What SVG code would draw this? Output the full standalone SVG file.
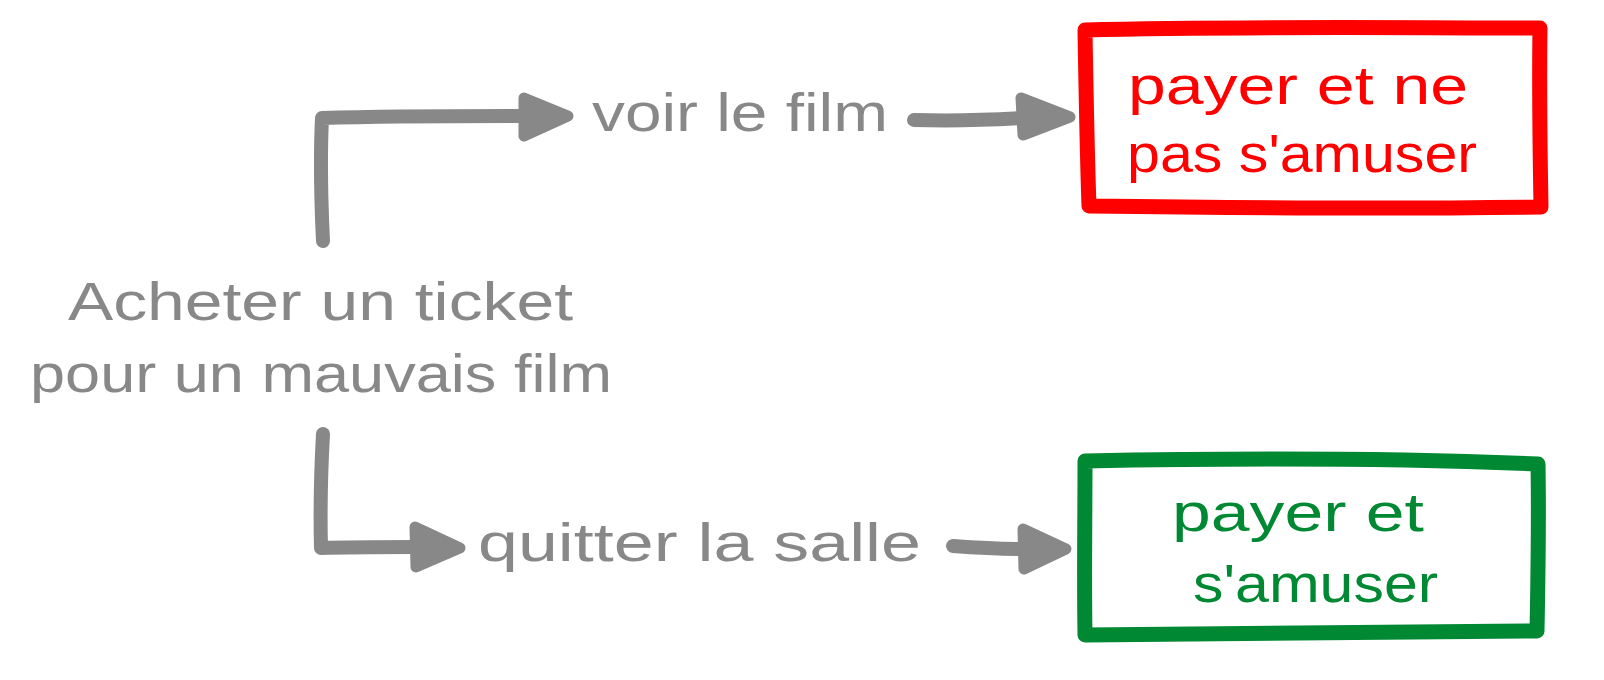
<svg xmlns="http://www.w3.org/2000/svg" width="1604" height="680" viewBox="0 0 1604 680">
<style>
.bg{fill:#ffffff}
.t{font-family:"Liberation Sans","Noto Sans",Arial,sans-serif;font-size:54px}
.g{fill:#888888}
.r{fill:#ff0000}
.gr{fill:#008833}
.ln{fill:none;stroke:#888888;stroke-width:14;stroke-linecap:round;stroke-linejoin:round}
.hd{fill:#888888;stroke:#888888;stroke-width:11;stroke-linejoin:round}
.boxr{fill:none;stroke:#ff0000;stroke-width:15;stroke-linejoin:round;stroke-linecap:round}
.boxg{fill:none;stroke:#008833;stroke-width:15;stroke-linejoin:round;stroke-linecap:round}
</style>
<rect class="bg" x="0" y="0" width="1604" height="680"/>
<g id="connectors">
  <path class="ln" d="M323,241 C321,200 320,160 322,118 C390,116 460,116 528,116"/>
  <polygon class="hd" points="524,98 568,116 524,136"/>
  <path class="ln" d="M914,120 C950,121 990,120 1024,118"/>
  <polygon class="hd" points="1021,98 1070,117 1023,135"/>
  <path class="ln" d="M323,434 C321,470 320,510 321,548 C350,547 385,547 414,547"/>
  <polygon class="hd" points="415,527 460,548 416,567"/>
  <path class="ln" d="M953,546 C980,548 1000,549 1026,549"/>
  <polygon class="hd" points="1023,529 1066,549 1024,569"/>
</g>
<g id="start">
  <text class="t g" x="68" y="320" textLength="505" lengthAdjust="spacingAndGlyphs">Acheter un ticket</text>
  <text class="t g" x="30" y="392" textLength="582" lengthAdjust="spacingAndGlyphs">pour un mauvais film</text>
</g>
<g id="voir">
  <text class="t g" x="592" y="131" textLength="296" lengthAdjust="spacingAndGlyphs">voir le film</text>
</g>
<g id="quitter">
  <text class="t g" x="478" y="561" textLength="443" lengthAdjust="spacingAndGlyphs">quitter la salle</text>
</g>
<g id="bad">
  <path class="boxr" d="M1085,30 C1240,26 1390,28 1540,28 C1539,90 1540,150 1541,207 C1390,209 1240,208 1089,206 C1087,150 1086,90 1085,30 Z"/>
  <text class="t r" x="1128" y="104" textLength="340" lengthAdjust="spacingAndGlyphs">payer et ne</text>
  <text class="t r" x="1127" y="172" textLength="350" lengthAdjust="spacingAndGlyphs">pas s'amuser</text>
</g>
<g id="good">
  <path class="boxg" d="M1085,461 C1240,458 1390,458 1538,464 C1539,520 1538,580 1537,631 C1390,632 1240,633 1085,635 C1084,580 1085,520 1085,461 Z"/>
  <text class="t gr" x="1172" y="531" textLength="252" lengthAdjust="spacingAndGlyphs">payer et</text>
  <text class="t gr" x="1193" y="602" textLength="245" lengthAdjust="spacingAndGlyphs">s'amuser</text>
</g>
</svg>
